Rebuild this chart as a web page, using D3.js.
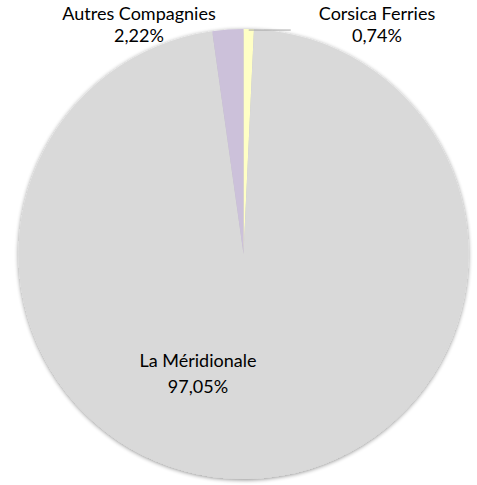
<!DOCTYPE html>
<html><head><meta charset="utf-8">
<script src="https://cdn.jsdelivr.net/npm/d3@7"></script>
<style>body{margin:0;background:#fff}svg{display:block}</style>
</head><body>
<svg id="c" width="477" height="485"></svg>
<script>
const categories = ["Corsica Ferries", "La Méridionale", "Autres Compagnies"];
const values = [0.74, 97.05, 2.22];
const valueLabels = ["0,74%", "97,05%", "2,22%"];
const colors = ["#ffffc5", "#d9d9d9", "#ccc1da"];

const svg = d3.select("#c");
const cx = 243.5, cy = 254, r = 225;
const defs = svg.append("defs");
const f = defs.append("filter").attr("id","sh").attr("x","-10%").attr("y","-10%").attr("width","120%").attr("height","120%");
f.append("feGaussianBlur").attr("in","SourceAlpha").attr("stdDeviation",2);
f.append("feOffset").attr("dx",0).attr("dy",1).attr("result","b");
f.append("feComponentTransfer").append("feFuncA").attr("type","linear").attr("slope",0.45);
const m = f.append("feMerge"); m.append("feMergeNode"); m.append("feMergeNode").attr("in","SourceGraphic");

const pie = d3.pie().sort(null).value(d => d)(values);
const arc = d3.arc().innerRadius(0).outerRadius(r);
const g = svg.append("g").attr("transform", `translate(${cx},${cy})`).attr("filter","url(#sh)");
g.selectAll("path").data(pie).enter().append("path")
  .attr("d", arc).attr("fill", (d,i) => colors[i]);

// leader line for Corsica Ferries
const mid0 = (pie[0].startAngle + pie[0].endAngle)/2;
const lx = Math.sin(mid0)*r, ly = -Math.cos(mid0)*r;
svg.append("path").attr("d", `M${cx+lx},${cy+ly+1} L${cx+lx+42},${cy+ly+1}`)
  .attr("stroke","#a6a6a6").attr("stroke-width",1).attr("fill","none");

const labelPos = [[377, 20], [198, 367], [139, 20]];
const font = "Lato, 'Open Sans', sans-serif";
categories.forEach((c,i) => {
  const t = svg.append("text").attr("text-anchor","middle").attr("font-family",font)
    .attr("font-size",18).attr("font-weight",400).attr("fill","#000");
  t.append("tspan").attr("x",labelPos[i][0]).attr("y",labelPos[i][1]).text(c);
  t.append("tspan").attr("x",labelPos[i][0]).attr("y",labelPos[i][1]+(i===1?26:22)).text(valueLabels[i]);
});
</script>
</body></html>
